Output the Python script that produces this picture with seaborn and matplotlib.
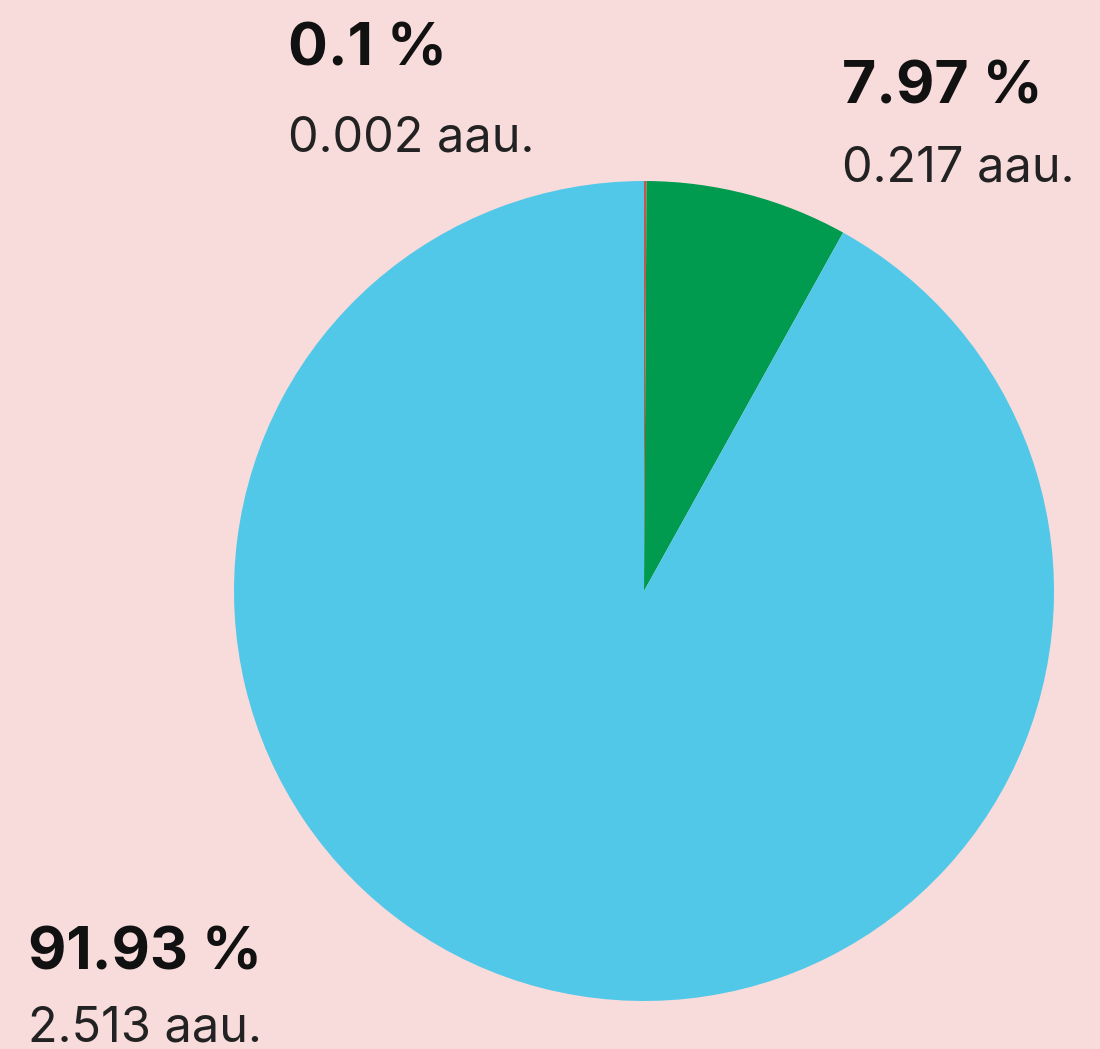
import matplotlib
matplotlib.use("Agg")
import matplotlib.pyplot as plt
import seaborn as sns

# dati
shares = [0.1, 7.97, 91.93]
amounts = ["0.002 aau.", "0.217 aau.", "2.513 aau."]
pct_labels = ["0.1 %", "7.97 %", "91.93 %"]
colors = ["#C4574C", "#009B4E", "#52C8E8"]

bg = "#F8DBDB"
sns.set_theme(style="white")
plt.rcParams['font.family'] = ['Inter', 'DejaVu Sans']

W, H = 1100, 1049
fig = plt.figure(figsize=(W / 100, H / 100), dpi=100, facecolor=bg)

# torta
cx, cy, r = 644, 591, 410
ax = fig.add_axes([(cx - r) / W, (H - cy - r) / H, 2 * r / W, 2 * r / H])
ax.set_facecolor(bg)
ax.pie(shares, colors=colors, startangle=90, counterclock=False,
       wedgeprops=dict(linewidth=0))
ax.set_xlim(-1, 1)
ax.set_ylim(-1, 1)
ax.set_aspect("equal")
ax.axis("off")

# etichette (x sinistra, baseline percentuale, baseline valore)
pos = [(288, 65, 151), (842, 104, 182), (28, 969, 1041)]
for (x, yb, ys), p, a in zip(pos, pct_labels, amounts):
    fig.text(x / W, 1 - yb / H, p, fontsize=42.5, fontweight="bold",
             color="#111111", ha="left", va="baseline")
    fig.text(x / W, 1 - ys / H, a, fontsize=35, color="#222222",
             ha="left", va="baseline")

fig.savefig("out.png", dpi=100, facecolor=bg)
